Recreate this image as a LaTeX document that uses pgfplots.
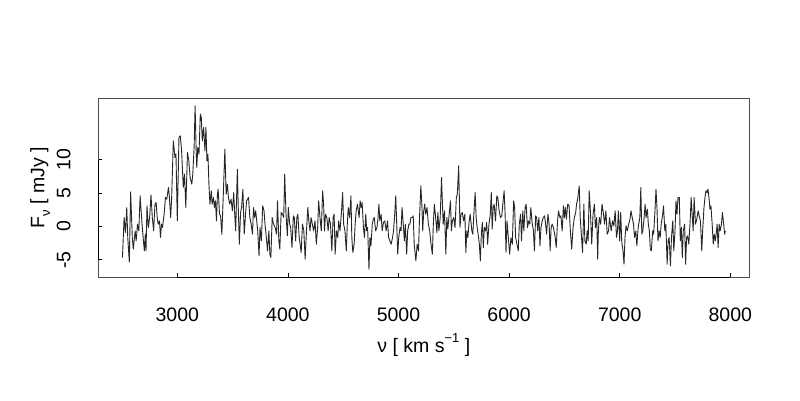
\documentclass[border=0pt]{standalone}
\usepackage{fontspec}
\setmainfont{Liberation Sans}
\usepackage{pgfplots}
\usepackage{pgfplotstable}
\pgfplotsset{compat=1.18}
\newcommand\lbl{\fontsize{19.5}{23}\selectfont}
\newcommand\sml{\fontsize{13}{15}\selectfont}

% spectrum: velocity (km/s) vs flux density (mJy)
\pgfplotstableread{
v f
2504 -4.65
2519 1.35
2531 -0.9
2543 2.85
2552 -1.65
2566 -5.3
2578 5.2
2593 -1.65
2602 -3.4
2619 -0.65
2628 -2.15
2640 0.35
2652 -0.65
2664 4.6
2679 0.85
2690 -1.4
2702 -3.65
2711 -1.15
2717 -3.65
2726 3.1
2738 -0.15
2750 1.35
2762 4.75
2774 1.35
2786 -0.65
2798 3.35
2809 3.6
2818 1.35
2827 0.35
2839 0.85
2848 -1.65
2857 0.35
2866 -0.15
2881 1.85
2893 4.35
2905 4.1
2920 5.85
2929 4.35
2940 1.35
2949 4.35
2964 12.85
2979 10.35
2988 10.85
3000 0.85
3015 13.35
3027 13.6
3039 11.35
3054 5.85
3065 7.85
3077 2.85
3092 11.1
3104 9.85
3116 7.35
3131 6.35
3140 7.85
3152 11.85
3161 18.1
3170 11.85
3176 8.85
3185 11.85
3196 10.85
3208 16.85
3217 16.35
3226 12.85
3238 14.85
3250 11.35
3259 14.85
3268 9.85
3277 10.85
3286 6.35
3295 3.35
3307 5.35
3315 3.35
3327 4.35
3336 2.85
3345 3.85
3354 0.85
3363 4.85
3369 5.6
3382 1.85
3391 1.6
3403 -1.15
3415 4.35
3430 11.6
3442 4.85
3453 6.35
3462 4.35
3474 3.35
3486 4.1
3498 2.35
3510 5.1
3519 1.85
3528 -0.65
3543 8.6
3552 2.35
3561 -2.65
3572 2.1
3581 2.85
3593 5.6
3605 -1.15
3617 1.85
3626 3.85
3644 4.35
3656 1.35
3668 0.35
3680 -1.15
3689 2.85
3700 1.35
3709 2.35
3718 0.85
3727 -0.65
3739 -4.4
3748 -0.15
3760 -2.15
3772 3.1
3784 2.35
3793 0.35
3805 -1.65
3816 -3.65
3828 -0.65
3837 -4.15
3846 -4.65
3858 1.35
3870 0.35
3885 -0.15
3897 -1.15
3906 3.85
3918 -2.15
3927 -3.4
3939 2.1
3950 1.85
3962 1.35
3971 7.85
3983 1.85
3995 -1.4
4004 2.85
4016 0.35
4025 -0.15
4037 -3.15
4049 1.6
4058 1.35
4070 -2.15
4081 1.35
4090 1.85
4102 -1.65
4111 -2.65
4120 -3.9
4132 0.35
4144 -0.65
4156 -4.9
4168 -0.65
4180 2.85
4189 0.85
4200 -0.65
4209 1.35
4221 0.35
4233 -0.65
4245 0.85
4257 -2.65
4269 -0.15
4278 3.85
4290 1.35
4302 -0.65
4314 5.35
4323 3.35
4331 -0.65
4340 1.85
4352 1.35
4364 -0.65
4373 1.35
4385 0.35
4397 -3.65
4409 1.35
4418 1.85
4427 -4.15
4439 -0.65
4451 -1.65
4459 0.85
4471 -0.65
4483 1.85
4495 5.1
4504 0.35
4516 -0.65
4528 -3.65
4537 0.35
4546 2.85
4558 1.35
4570 4.6
4578 -1.65
4587 -3.9
4599 -2.65
4608 0.35
4617 2.35
4629 3.35
4644 1.35
4653 3.85
4662 2.85
4671 3.6
4683 -0.15
4692 -1.65
4704 1.85
4712 -0.65
4721 -0.15
4733 -6.4
4742 -1.65
4751 -2.9
4763 0.35
4772 1.1
4781 1.35
4793 -0.65
4805 -0.15
4814 1.1
4823 3.35
4831 0.85
4843 1.85
4852 -0.65
4864 0.6
4876 0.85
4888 -0.65
4901 0.85
4910 -1.65
4922 -2.15
4934 -2.65
4946 -1.65
4955 -0.65
4966 1.85
4975 4.6
4984 0.35
4993 -4.15
5002 -1.65
5014 -0.15
5023 -0.65
5032 2.85
5041 0.85
5053 -2.15
5062 0.35
5074 -4.15
5083 -0.65
5094 0.35
5103 0.35
5112 1.35
5124 1.35
5133 1.6
5142 -2.65
5157 -5.15
5169 -2.65
5181 -3.65
5190 1.35
5202 6.1
5211 3.35
5219 -0.65
5228 2.35
5237 3.35
5246 1.85
5258 2.85
5270 0.35
5282 -0.65
5294 -2.65
5306 -4.15
5315 0.35
5324 3.35
5336 1.35
5347 -0.9
5356 2.1
5365 -0.65
5377 1.35
5389 7.35
5404 0.35
5416 2.35
5428 -4.15
5437 1.35
5446 -0.4
5458 1.85
5470 3.85
5478 -0.65
5487 0.85
5499 1.35
5511 -0.15
5523 4.35
5532 4.85
5544 9.1
5556 -0.15
5565 1.85
5577 2.1
5589 0.85
5600 1.85
5609 -3.9
5618 -0.65
5627 -1.65
5639 0.85
5648 1.85
5663 -0.65
5672 -1.15
5681 1.85
5693 5.1
5702 1.35
5711 -0.15
5720 -1.15
5731 -2.65
5740 -5.15
5749 -1.15
5758 0.6
5767 -3.15
5776 -0.15
5788 -0.65
5797 0.6
5806 -2.65
5818 0.35
5830 1.85
5839 5.1
5847 -0.4
5856 2.85
5865 3.35
5877 0.85
5889 4.6
5898 4.35
5910 2.35
5922 1.35
5934 1.6
5946 3.85
5955 5.35
5964 1.85
5972 -3.9
5981 0.85
5993 -1.65
6005 -4.15
6017 -1.65
6029 -2.65
6041 3.85
6050 2.85
6059 -1.65
6071 -2.65
6083 -3.65
6092 0.35
6104 1.85
6112 -2.15
6124 2.35
6133 -0.65
6145 2.85
6154 3.35
6166 -0.15
6178 0.85
6187 0.35
6196 2.85
6208 0.6
6220 -0.65
6229 -3.65
6240 1.6
6249 1.35
6258 -0.65
6270 1.35
6279 -2.9
6288 -0.15
6300 0.85
6309 1.35
6321 1.6
6330 0.35
6339 -1.15
6351 1.85
6362 0.35
6371 -3.65
6380 -0.15
6389 0.35
6401 -0.15
6417 -1.65
6426 -3.15
6438 0.85
6447 2.35
6459 1.35
6468 1.6
6480 -0.65
6491 3.1
6500 1.35
6509 2.85
6518 1.1
6530 3.35
6542 3.1
6554 -0.65
6566 -3.4
6578 -0.15
6590 1.35
6602 2.1
6610 3.35
6622 4.35
6634 6.1
6643 1.35
6655 -1.65
6664 -3.9
6676 3.35
6685 -2.15
6697 -2.65
6706 -0.65
6715 -2.15
6724 5.35
6735 2.35
6747 -2.65
6759 1.85
6771 3.35
6780 -0.15
6792 1.35
6801 -4.9
6807 -0.65
6816 1.35
6828 0.35
6840 3.35
6852 2.1
6863 0.35
6875 2.35
6887 -1.15
6899 -0.65
6908 1.35
6923 -0.65
6935 0.85
6947 0.1
6959 2.35
6971 -1.65
6980 -0.65
6988 2.35
7000 -2.15
7009 2.1
7018 -2.15
7030 -3.65
7039 -5.65
7048 -1.65
7057 0.1
7069 -0.65
7081 0.35
7093 1.1
7102 2.35
7113 1.35
7125 0.35
7134 -1.65
7146 -0.65
7155 -2.9
7167 -0.15
7182 1.35
7191 5.85
7200 -1.15
7209 -0.65
7221 1.35
7230 3.35
7238 1.35
7250 2.6
7259 0.35
7268 -0.65
7277 -3.4
7286 -3.65
7298 -0.65
7307 -1.15
7319 2.35
7328 5.6
7337 2.85
7346 -2.15
7357 -0.65
7366 -1.65
7375 0.35
7387 1.6
7396 3.1
7408 -0.65
7417 0.35
7429 -5.65
7438 -2.15
7447 -1.65
7459 -5.9
7468 -1.65
7480 0.85
7489 -3.65
7500 -0.65
7509 3.85
7518 1.85
7527 4.35
7539 4.35
7548 -2.15
7557 -0.15
7566 -4.65
7575 -0.65
7587 0.35
7596 -5.65
7605 -1.65
7614 -1.4
7625 -2.65
7637 0.85
7646 4.35
7655 1.85
7664 -0.65
7673 4.35
7685 0.35
7697 1.1
7709 2.35
7718 1.6
7730 0.85
7742 -3.65
7750 -0.65
7762 2.85
7771 4.35
7780 5.35
7789 5.1
7798 5.6
7807 4.35
7816 2.6
7825 3.1
7837 0.1
7846 -2.65
7855 -1.15
7864 -2.15
7872 -1.15
7881 0.35
7890 -3.15
7899 0.35
7908 -0.65
7920 0.35
7929 2.1
7940 0.35
7949 -1.15
7955 -0.65
}\spec

\begin{document}
\begin{tikzpicture}
\useasboundingbox (0,0) rectangle (800pt,400pt);
\begin{axis}[
  at={(98.3pt,123pt)}, anchor=south west,
  scale only axis, width=651pt, height=179pt,
  xmin=2285.7, xmax=8171.8, ymin=-7.57, ymax=19.27,
  clip=false,
  axis line style={black!70, line width=0.8pt},
  tick align=inside, major tick length=4pt,
  tick style={black, line width=0.8pt},
  xtick pos=lower, ytick pos=left,
  xtick={3000,4000,5000,6000,7000,8000},
  xticklabels={3000,4000,5000,6000,7000,8000},
  ytick={-5,0,5,10},
  yticklabels={-5,0,5,10},
  xticklabel style={font=\lbl, anchor=base, yshift=-44pt},
  yticklabel style={font=\lbl, xshift=-28pt, rotate=90, anchor=base},
  every axis x label/.style={at={(axis description cs:0.5,0)}, yshift=-75pt, anchor=base, font=\lbl},
  every axis y label/.style={at={(axis description cs:0,0.5)}, xshift=-54pt, rotate=90, anchor=base, font=\lbl},
  xlabel={ν [ km s\raisebox{0.5em}{\sml −1} ]},
  ylabel={F\raisebox{-0.3em}{\sml ν} [ mJy ]},
]
\addplot[black!85, line width=0.9pt, line join=round, no markers] table[x=v, y=f] {\spec};
\draw[black, line width=0.8pt] (axis cs:3000,-7.57) -- (axis cs:8000,-7.57);
\draw[black, line width=0.8pt] (axis cs:2285.7,-5) -- (axis cs:2285.7,10);
\end{axis}
\end{tikzpicture}
\end{document}
